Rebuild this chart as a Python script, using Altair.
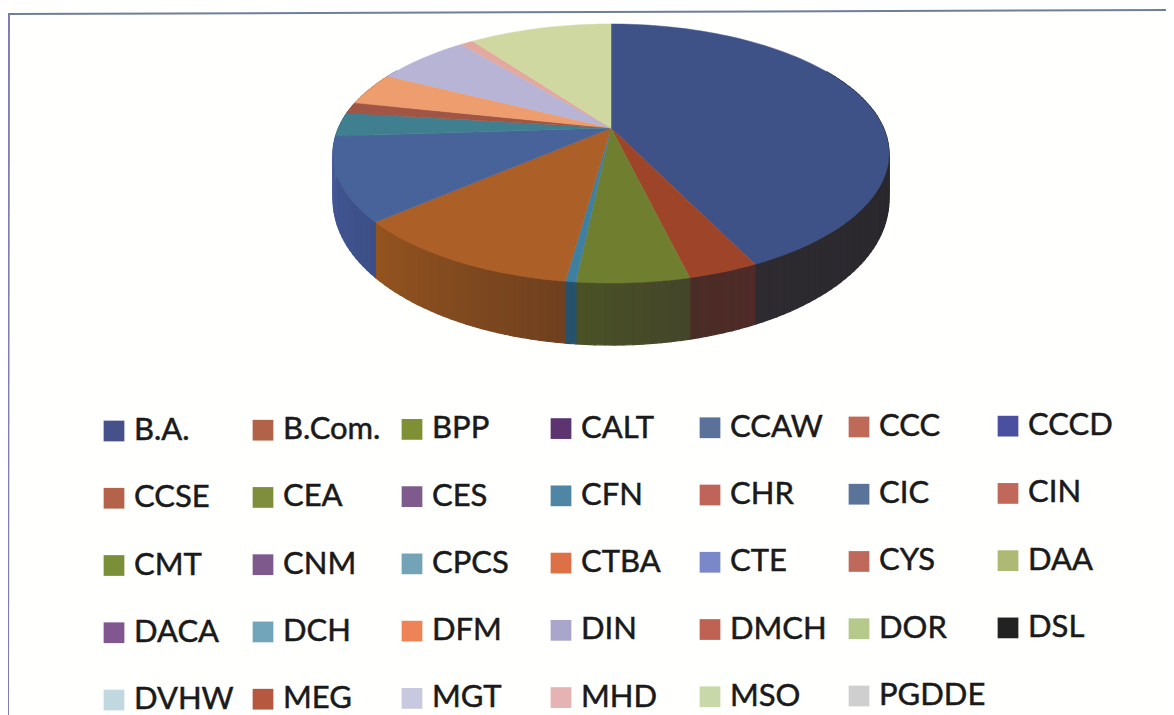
import math
import altair as alt

# Legend, in reading order
legend_labels = ["B.A.", "B.Com.", "BPP", "CALT", "CCAW", "CCC", "CCCD",
                 "CCSE", "CEA", "CES", "CFN", "CHR", "CIC", "CIN",
                 "CMT", "CNM", "CPCS", "CTBA", "CTE", "CYS", "DAA",
                 "DACA", "DCH", "DFM", "DIN", "DMCH", "DOR", "DSL",
                 "DVHW", "MEG", "MGT", "MHD", "MSO", "PGDDE"]
legend_colors = ["#46508a", "#b3624a", "#7e8f36", "#5d3370", "#5a7299", "#bf6958", "#4a4fa0",
                 "#b5624a", "#7f8e3a", "#7f5a8c", "#4f86a5", "#c0645a", "#5a7399", "#c0685a",
                 "#7b8f38", "#7e5a8c", "#72a3b6", "#dd7044", "#7a87c8", "#bf685c", "#aeba74",
                 "#80578e", "#72a5ba", "#ef8358", "#a9a5cb", "#bf6254", "#b5c98a", "#222222",
                 "#c2d8e0", "#b5583f", "#c8c8e0", "#e5b3b3", "#c8d8a8", "#cfcfcf"]

# Visible slices, clockwise from 12 o'clock (share of the pie, %)
slice_labels = ["B.A.", "B.Com.", "BPP", "CFN", "CTBA", "CIC", "CPCS", "DMCH", "DFM", "DIN", "MHD", "MSO"]
slice_values = [42.8, 3.4, 5.4, 0.5, 11.4, 10.4, 3.0, 1.4, 4.1, 6.6, 0.9, 10.0]
top_colors = ["#3f5287", "#9e4428", "#6f7f2f", "#3f80a0", "#ad5f28", "#47639a",
              "#3f7f90", "#a05545", "#ee9e6e", "#b7b4d6", "#e3a99e", "#d0d8a2"]
wall_start = ["#232326", "#4f2a28", "#44452a", "#27526c", "#6f401f", "#3c4f86",
              "#3f6f80", "#804030", "#c08050", "#9090b0", "#c09090", "#a8b080"]
wall_end = ["#2d2a30", "#4a2c26", "#4a5226", "#27526c", "#94541f", "#46599a",
            "#3f6f80", "#804030", "#c08050", "#9090b0", "#c09090", "#a8b080"]

# Perspective of the disc
PERSP, DEPTH, RADIUS = 0.197, 124.5, 272.5


def project(deg):
    t = math.radians(deg)
    u, v = math.sin(t), math.cos(t)
    k = 1 + PERSP * v
    return RADIUS * u / k, DEPTH * v / k, v


def mix(c1, c2, f):
    a = [int(c1[i:i + 2], 16) for i in (1, 3, 5)]
    b = [int(c2[i:i + 2], 16) for i in (1, 3, 5)]
    return "#%02x%02x%02x" % tuple(round(x + (y - x) * f) for x, y in zip(a, b))


def feature(ring, color):
    return {"type": "Feature", "properties": {"color": color},
            "geometry": {"type": "Polygon", "coordinates": [ring + [ring[0]]]}}


def drop(v):
    return 42 + 20 * max(0.0, -v)


walls, tops = [], []
total = sum(slice_values)
start = 0.0
for val, top, w0, w1 in zip(slice_values, top_colors, wall_start, wall_end):
    end = start + 360 * val / total
    n = max(2, int((end - start) / 1.5))
    angles = [start + (end - start) * i / n for i in range(n + 1)]
    pts = [project(a) for a in angles]
    tops.append(feature([[0, 0]] + [[p[0], p[1]] for p in pts], top))
    for i in range(n):
        mid = (angles[i] + angles[i + 1]) / 2
        if 60 < mid < 300:
            p, q = pts[i], pts[i + 1]
            walls.append(feature([[p[0], p[1]], [q[0], q[1]],
                                  [q[0], q[1] - drop(q[2])], [p[0], p[1] - drop(p[2])]],
                                 mix(w0, w1, (i + 0.5) / n)))
    start = end


def shapes(features, width):
    return alt.Chart(alt.InlineData(values={"type": "FeatureCollection", "features": features},
                                    format=alt.DataFormat(type="json", property="features"))
                     ).mark_geoshape(strokeWidth=width).encode(
        fill=alt.Fill("properties.color:N", scale=None, legend=None),
        stroke=alt.Stroke("properties.color:N", scale=None, legend=None),
    ).project(type="identity", scale=1, translate=[603, 120], reflectY=True)


COLS = 7
legend_rows = [{"label": l, "color": c, "col": i % COLS, "row": i // COLS - 0.012 * (i % COLS)}
               for i, (l, c) in enumerate(zip(legend_labels, legend_colors))]
legend_data = alt.InlineData(values=legend_rows)
x_enc = alt.X("col:Q", axis=None, scale=alt.Scale(domain=[0, 6], range=[106, 1000], nice=False, zero=False))
y_enc = alt.Y("row:Q", axis=None, scale=alt.Scale(domain=[0, 4], range=[423, 692], nice=False, zero=False))

squares = alt.Chart(legend_data).mark_square(size=430, opacity=1, strokeWidth=0).encode(
    x=x_enc, y=y_enc, fill=alt.Fill("color:N", scale=None, legend=None))
labels = alt.Chart(legend_data).mark_text(align="left", baseline="middle", dx=20, dy=0, font="Lato",
                                          fontSize=31, color="#1a1a1a", stroke="#1a1a1a",
                                          strokeWidth=0.5).encode(
    x=x_enc, y=y_enc, text="label:N")

frame_top = alt.Chart(alt.InlineData(values=[{"a": 0}])).mark_rule(color="#6f7f98", strokeWidth=2).encode(
    x=alt.value(0), x2=alt.value(1158), y=alt.value(6), y2=alt.value(2))
frame_left = alt.Chart(alt.InlineData(values=[{"a": 0}])).mark_rule(color="#7d7fb0", strokeWidth=2).encode(
    x=alt.value(1), x2=alt.value(0), y=alt.value(6), y2=alt.value(707))

chart = alt.layer(frame_top, frame_left, shapes(walls, 1.2), shapes(tops, 0.5), squares, labels).properties(
    width=1158, height=707, padding=0, autosize=alt.AutoSizeParams(type="none"), background="#fffffe"
).configure_view(stroke=None)

chart.save("out.html", embed_options={"renderer": "svg", "actions": False})
